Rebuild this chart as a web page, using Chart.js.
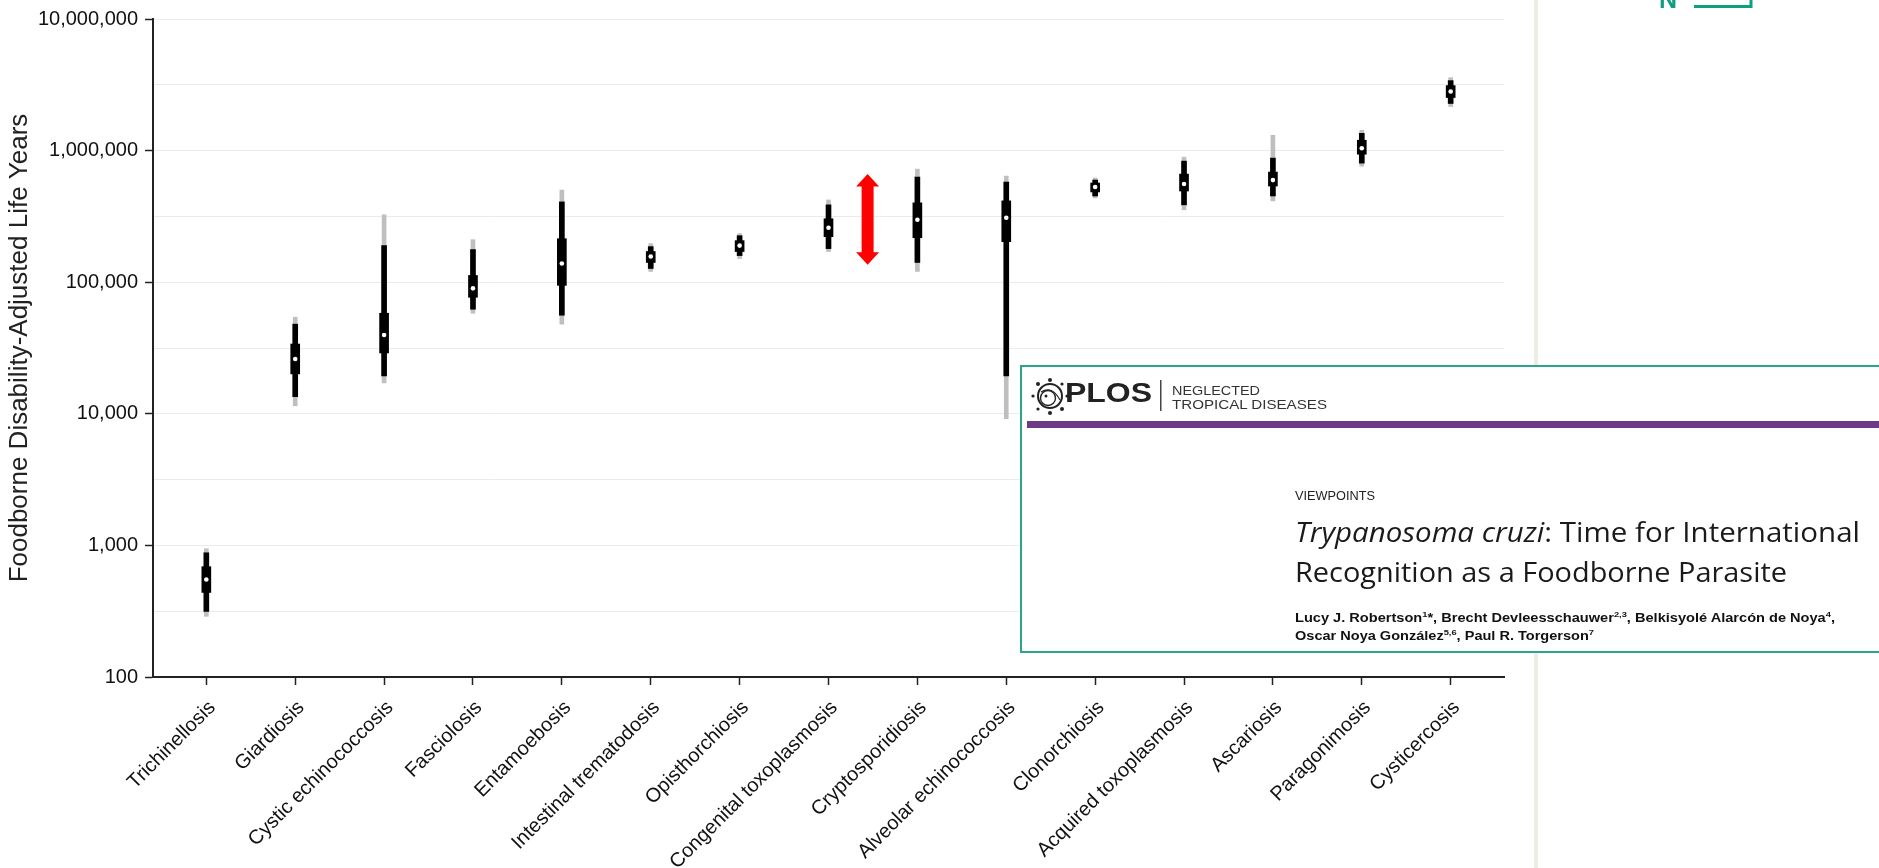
<!DOCTYPE html>
<html>
<head>
<meta charset="utf-8">
<script src="https://cdn.jsdelivr.net/npm/chart.js@4.4.1/dist/chart.umd.min.js"></script>
<style>
  html, body { margin: 0; padding: 0; background: #fff; }
  #wrap { position: relative; width: 1879px; height: 868px; overflow: hidden; }
  #overlay { position: absolute; left: 0; top: 0; pointer-events: none; }
</style>
</head>
<body>
<div id="wrap">
  <canvas id="dalyChart" width="1879" height="868"></canvas>
  <svg id="overlay" width="1879" height="868" xmlns="http://www.w3.org/2000/svg">
    <!-- page divider and corner logo -->
    <rect x="1534" y="0" width="4" height="868" fill="#efede3"/>
    <text x="1659" y="8" font-family="Liberation Sans" font-weight="bold" font-size="25" fill="#0f9f80">N</text>
    <path d="M1694 6.5 H1751 V-10" stroke="#0f9f80" stroke-width="3" fill="none"/>

    <!-- article header inset -->
    <rect x="1021" y="366" width="900" height="286" fill="#fff" stroke="#2aa68c" stroke-width="2"/>
    <g stroke="#222" fill="none">
      <circle cx="1050" cy="396" r="12" stroke-width="2"/>
      <circle cx="1048" cy="398" r="7.5" stroke-width="1.4"/>
      <path d="M1041 392 Q1052 385 1060 400" stroke-width="1.2"/>
    </g>
    <g fill="#222">
      <circle cx="1050" cy="380" r="2"/>
      <circle cx="1062" cy="384" r="1.6"/>
      <circle cx="1067" cy="396" r="1.6"/>
      <circle cx="1062" cy="409" r="2"/>
      <circle cx="1050" cy="413" r="2"/>
      <circle cx="1038" cy="409" r="1.6"/>
      <circle cx="1033" cy="396" r="1.6"/>
      <circle cx="1038" cy="384" r="2"/>
      <circle cx="1046" cy="396" r="1.5"/>
    </g>
    <text x="1065" y="402" font-family="Liberation Sans" font-weight="bold" font-size="27" fill="#222"
          textLength="87" lengthAdjust="spacingAndGlyphs">PLOS</text>
    <rect x="1160" y="380" width="1.5" height="31" fill="#444"/>
    <text x="1172" y="394.5" font-family="Liberation Sans" font-size="13.5" fill="#333"
          textLength="88" lengthAdjust="spacingAndGlyphs">NEGLECTED</text>
    <text x="1172" y="408.5" font-family="Liberation Sans" font-size="13.5" fill="#333"
          textLength="155" lengthAdjust="spacingAndGlyphs">TROPICAL DISEASES</text>
    <rect x="1027" y="421" width="900" height="7" fill="#6d3a88"/>

    <text x="1295" y="500" font-family="Liberation Sans" font-size="12.5" fill="#222"
          textLength="80" lengthAdjust="spacingAndGlyphs">VIEWPOINTS</text>
    <text x="1295" y="542" font-family="Open Sans" font-size="28" fill="#1a1a1a"
          textLength="565" lengthAdjust="spacingAndGlyphs"><tspan font-style="italic">Trypanosoma cruzi</tspan>: Time for International</text>
    <text x="1295" y="582" font-family="Open Sans" font-size="28" fill="#1a1a1a"
          textLength="492" lengthAdjust="spacingAndGlyphs">Recognition as a Foodborne Parasite</text>
    <text x="1295" y="622" font-family="Liberation Sans" font-weight="bold" font-size="12.5" fill="#111"
          textLength="540" lengthAdjust="spacingAndGlyphs">Lucy J. Robertson<tspan font-size="8" dy="-5">1</tspan><tspan dy="5">*, Brecht Devleesschauwer</tspan><tspan font-size="8" dy="-5">2,3</tspan><tspan dy="5">, Belkisyolé Alarcón de Noya</tspan><tspan font-size="8" dy="-5">4</tspan><tspan dy="5">,</tspan></text>
    <text x="1295" y="640" font-family="Liberation Sans" font-weight="bold" font-size="12.5" fill="#111"
          textLength="299" lengthAdjust="spacingAndGlyphs">Oscar Noya González<tspan font-size="8" dy="-5">5,6</tspan><tspan dy="5">, Paul R. Torgerson</tspan><tspan font-size="8" dy="-5">7</tspan></text>
  </svg>
</div>
<script>
const categories = [
  "Trichinellosis",
  "Giardiosis",
  "Cystic echinococcosis",
  "Fasciolosis",
  "Entamoebosis",
  "Intestinal trematodosis",
  "Opisthorchiosis",
  "Congenital toxoplasmosis",
  "Cryptosporidiosis",
  "Alveolar echinococcosis",
  "Clonorchiosis",
  "Acquired toxoplasmosis",
  "Ascariosis",
  "Paragonimosis",
  "Cysticercosis",
];

// median DALYs (white dot)
const median = [550, 26100, 39700, 89800, 138700, 156600, 189700, 259300, 298000, 308500, 529000, 557000, 597000, 1042000, 2810000];
// thick box
const innerLow = [439, 20100, 29000, 76800, 94600, 141200, 171000, 221800, 217900, 203300, 485000, 493000, 538000, 939000, 2531000];
const innerHigh = [689, 33900, 58100, 112500, 214100, 171000, 206900, 303400, 400700, 415000, 567000, 663000, 687000, 1199000, 3118000];
// black line
const midLow = [315, 13500, 19400, 62300, 56100, 127100, 159300, 180000, 141200, 19440, 452000, 387000, 452000, 803000, 2280000];
const midHigh = [879, 48000, 189700, 177000, 407500, 186400, 225600, 387000, 629700, 577000, 597000, 832000, 877000, 1353000, 3403000];
// grey line
const outerLow = [289, 11500, 17200, 58100, 48000, 120700, 151300, 171000, 120700, 9200, 437000, 355000, 415000, 762000, 2163000];
const outerHigh = [943, 54200, 325000, 210400, 502000, 196300, 233700, 422000, 723000, 641000, 619000, 891000, 1306000, 1426000, 3583000];

const yTickValues = [100, 1000, 10000, 100000, 1000000, 10000000];
const yTickLabels = ["100", "1,000", "10,000", "100,000", "1,000,000", "10,000,000"];
const yTitle = "Foodborne Disability-Adjusted Life Years";

// red double arrow: x position (category index units) and value span
const arrowX = 7.44;
const arrowSpan = [136000, 663000];

const idx = categories.map((c, i) => i);

// minor grid lines halfway between decades (log space)
const yGridValues = [];
yTickValues.forEach((v, i) => {
  yGridValues.push(v);
  if (i < yTickValues.length - 1) yGridValues.push(Math.sqrt(v * yTickValues[i + 1]));
});

function span(lo, hi) {
  return idx.map((i) => ({ x: i, y: [lo[i], hi[i]] }));
}

const arrowPlugin = {
  id: "arrow",
  afterDatasetsDraw(chart) {
    const { ctx, scales } = chart;
    const cx = scales.x.getPixelForValue(arrowX);
    const top = scales.y.getPixelForValue(arrowSpan[1]);
    const bot = scales.y.getPixelForValue(arrowSpan[0]);
    const shaft = 6, head = 11.5, headLen = 12.5;
    ctx.save();
    ctx.fillStyle = "#ff0000";
    ctx.beginPath();
    ctx.moveTo(cx, top);
    ctx.lineTo(cx + head, top + headLen);
    ctx.lineTo(cx + shaft, top + headLen);
    ctx.lineTo(cx + shaft, bot - headLen);
    ctx.lineTo(cx + head, bot - headLen);
    ctx.lineTo(cx, bot);
    ctx.lineTo(cx - head, bot - headLen);
    ctx.lineTo(cx - shaft, bot - headLen);
    ctx.lineTo(cx - shaft, top + headLen);
    ctx.lineTo(cx - head, top + headLen);
    ctx.closePath();
    ctx.fill();
    ctx.restore();
  },
};

Chart.defaults.font.family = "'Liberation Sans', Arial, sans-serif";

new Chart(document.getElementById("dalyChart"), {
  type: "bar",
  data: {
    datasets: [
      {
        // MEDIANA
        type: "scatter",
        data: idx.map((i) => ({ x: i, y: median[i] })),
        pointRadius: 2.3,
        pointBackgroundColor: "#ffffff",
        pointBorderWidth: 0,
        order: 0,
      },
      {
        data: span(innerLow, innerHigh),
        backgroundColor: "#000000",
        barThickness: 9,
        grouped: false,
        order: 1,
      },
      {
        data: span(midLow, midHigh),
        backgroundColor: "#000000",
        barThickness: 5,
        grouped: false,
        order: 2,
      },
      {
        data: span(outerLow, outerHigh),
        backgroundColor: "#bfbfbf",
        barThickness: 4,
        grouped: false,
        order: 3,
      },
    ],
  },
  options: {
    responsive: false,
    animation: false,
    layout: { padding: { left: 0, right: 375, top: 15, bottom: 0 } },
    plugins: {
      legend: { display: false },
      tooltip: { enabled: false },
    },
    scales: {
      x: {
        type: "linear",
        min: -0.6,
        max: 14.6,
        offset: false,
        afterBuildTicks: (s) => {
          s.ticks = idx.map((i) => ({ value: i }));
        },
        afterFit: (s) => {
          s.height = 191;
        },
        ticks: {
          autoSkip: false,
          minRotation: 45,
          maxRotation: 45,
          padding: 11,
          labelOffset: 6,
          color: "#111",
          font: { size: 20 },
          callback: (v) => (categories[v] !== undefined ? categories[v] : ""),
        },
        grid: {
          drawOnChartArea: false,
          offset: false,
          tickLength: 8,
          tickColor: "#222",
          tickWidth: 1.5,
        },
        border: { color: "#222", width: 2 },
      },
      y: {
        type: "logarithmic",
        min: 100,
        max: 10000000,
        afterBuildTicks: (s) => {
          s.ticks = yGridValues.map((v) => ({ value: v }));
        },
        afterFit: (s) => {
          s.width = 153;
        },
        ticks: {
          autoSkip: false,
          padding: 7,
          color: "#111",
          font: { size: 20 },
          callback: (v) => {
            const k = yTickValues.indexOf(v);
            return k < 0 ? "" : yTickLabels[k];
          },
        },
        grid: {
          color: "#ebebeb",
          lineWidth: 1,
          tickLength: 8,
          tickWidth: 1.5,
          tickColor: (c) =>
            c.tick && yTickValues.indexOf(c.tick.value) >= 0 ? "#222" : "rgba(0,0,0,0)",
        },
        border: { color: "#222", width: 2 },
        title: {
          display: true,
          text: yTitle,
          color: "#222",
          font: { size: 26 },
          padding: { top: 4, bottom: 4 },
        },
      },
    },
  },
  plugins: [arrowPlugin],
});
</script>
</body>
</html>
